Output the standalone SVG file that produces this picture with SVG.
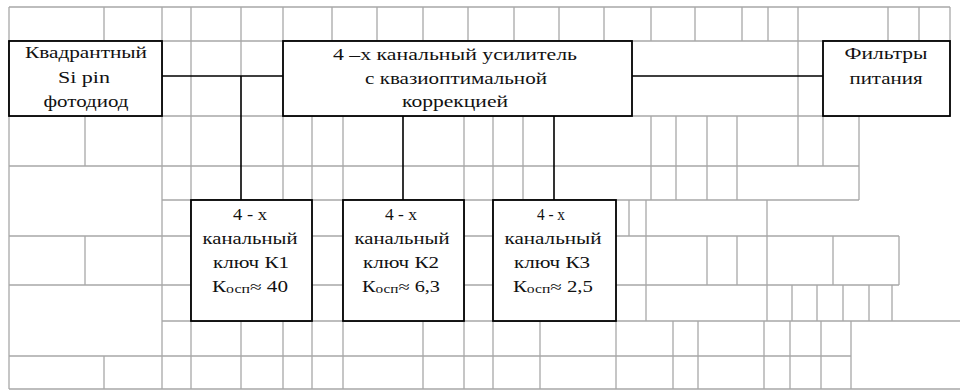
<svg xmlns="http://www.w3.org/2000/svg" width="960" height="390" viewBox="0 0 960 390">
<style>
.g{stroke:#a8a8a8;stroke-width:1.3;fill:none}
.b{fill:#fff;stroke:#000;stroke-width:1.8}
.c{stroke:#000;stroke-width:1.6;fill:none}
.t{font-size:16px;fill:#111;text-anchor:middle}
.s{font-size:12px}
</style>
<rect width="960" height="390" fill="#fff"/>
<g id="grid" class="g">
<path d="M9 7H950M9 41H950M9 116H950M9 166H859M162 200H859M9 236H899M9 285H899M162 321H960M9 356H851M9 389H960"/>
<path d="M9 7V389M162 7V389M191 7V389M104 7V41M104 356V389M85 116V166M85 236V285M241 7V76M241 321V389M283 7V41M283 116V200M283 321V389M312 116V200M312 321V389"/>
<path d="M332 7V41M377 7V41M423 7V41M468 7V41M514 7V41M559 7V41M604 7V41M651 7V41M695 7V41M742 7V41M768 7V41M888 7V41M919 7V41M950 7V41"/>
<path d="M343 116V389M423 321V389M464 116V389M493 116V389M523 116V200M540 321V389M616 321V389M629 200V236M646 200V321M651 116V200M673 321V389M676 116V200M698 321V389M707 116V200M707 236V285M737 116V200M737 236V285M764 321V389M767 200V321M790 321V389M792 285V321M798 7V166M817 285V321M821 321V389M823 116V166M833 236V285M843 285V321M851 321V389M859 116V200M869 285V321M892 285V321M899 236V285"/>
</g>
<g id="connectors" class="c">
<path d="M162 76H283M632 76H823M241 76V200M403 116V200M554 116V200"/>
</g>
<g id="photodiode" class="t" font-family="Liberation Serif, Times New Roman, serif">
<rect class="b" x="9" y="41" width="153" height="75"/>
<text x="86" y="58" textLength="122" lengthAdjust="spacingAndGlyphs">Квадрантный</text>
<text x="84" y="83" textLength="52" lengthAdjust="spacingAndGlyphs">Si pin</text>
<text x="86" y="107" textLength="85" lengthAdjust="spacingAndGlyphs">фотодиод</text>
</g>
<g id="amplifier" class="t" font-family="Liberation Serif, Times New Roman, serif">
<rect class="b" x="283" y="41" width="349" height="75"/>
<text x="455" y="60" textLength="244" lengthAdjust="spacingAndGlyphs">4 –х  канальный усилитель</text>
<text x="456" y="84" textLength="182" lengthAdjust="spacingAndGlyphs">с квазиоптимальной</text>
<text x="455" y="107" textLength="106" lengthAdjust="spacingAndGlyphs">коррекцией</text>
</g>
<g id="filters" class="t" font-family="Liberation Serif, Times New Roman, serif">
<rect class="b" x="823" y="41" width="127" height="75"/>
<text x="886" y="59" textLength="83" lengthAdjust="spacingAndGlyphs">Фильтры</text>
<text x="886" y="84" textLength="73" lengthAdjust="spacingAndGlyphs">питания</text>
</g>
<g id="key1" class="t" font-family="Liberation Serif, Times New Roman, serif">
<rect class="b" x="191" y="200" width="121" height="121"/>
<text x="250" y="220" textLength="34" lengthAdjust="spacingAndGlyphs">4 - х</text>
<text x="250" y="244" textLength="95" lengthAdjust="spacingAndGlyphs">канальный</text>
<text x="251" y="268" textLength="76" lengthAdjust="spacingAndGlyphs">ключ К1</text>
<text x="250" y="292" textLength="76" lengthAdjust="spacingAndGlyphs">К<tspan class="s" dy="1">осп</tspan><tspan dy="-1">≈ 40</tspan></text>
</g>
<g id="key2" class="t" font-family="Liberation Serif, Times New Roman, serif">
<rect class="b" x="343" y="200" width="121" height="121"/>
<text x="401" y="220" textLength="32" lengthAdjust="spacingAndGlyphs">4 - х</text>
<text x="402" y="244" textLength="95" lengthAdjust="spacingAndGlyphs">канальный</text>
<text x="401" y="268" textLength="76" lengthAdjust="spacingAndGlyphs">ключ К2</text>
<text x="401" y="292" textLength="78" lengthAdjust="spacingAndGlyphs">К<tspan class="s" dy="1">осп</tspan><tspan dy="-1">≈ 6,3</tspan></text>
</g>
<g id="key3" class="t" font-family="Liberation Serif, Times New Roman, serif">
<rect class="b" x="493" y="200" width="123" height="121"/>
<text x="551" y="220" textLength="28" lengthAdjust="spacingAndGlyphs">4 - х</text>
<text x="553" y="244" textLength="97" lengthAdjust="spacingAndGlyphs">канальный</text>
<text x="552" y="268" textLength="76" lengthAdjust="spacingAndGlyphs">ключ К3</text>
<text x="553" y="292" textLength="80" lengthAdjust="spacingAndGlyphs">К<tspan class="s" dy="1">осп</tspan><tspan dy="-1">≈ 2,5</tspan></text>
</g>
</svg>
